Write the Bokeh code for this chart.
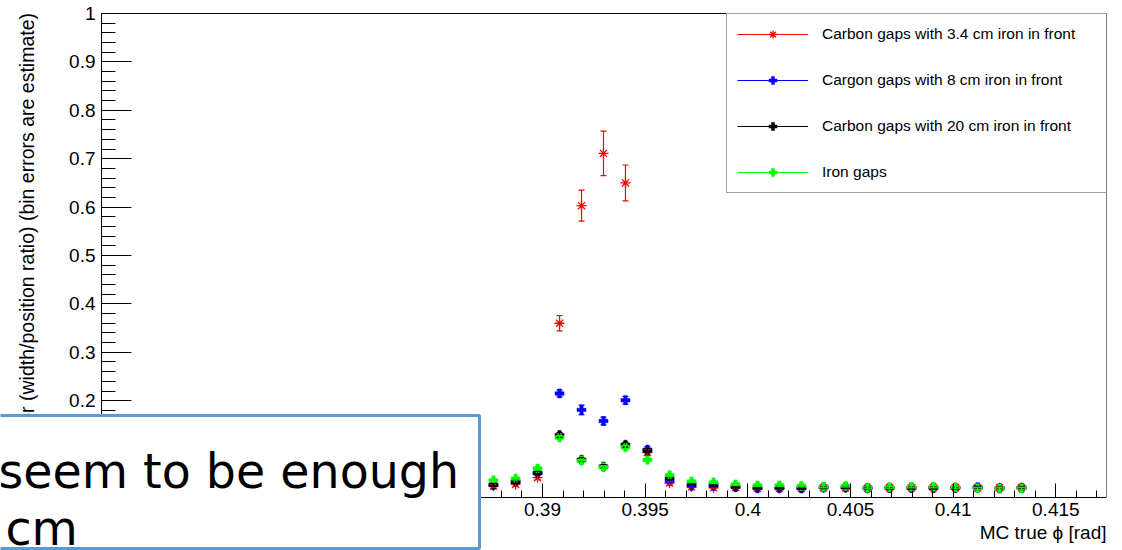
import math
from bokeh.plotting import figure
from bokeh.models import (Range1d, FixedTicker, CustomJSTickFormatter, ColumnDataSource,
                          Whisker, TeeHead, Legend, LegendItem, BoxAnnotation, Label,
                          LinearAxis)
from bokeh.embed import file_html
from bokeh.resources import INLINE

# ---------------- data ----------------
phi = [0.38761, 0.38869, 0.38976, 0.39083, 0.39190, 0.39297, 0.39404, 0.39511,
       0.39619, 0.39726, 0.39833, 0.39940, 0.40047, 0.40154, 0.40261, 0.40369,
       0.40476, 0.40583, 0.40690, 0.40797, 0.40904, 0.41011, 0.41119, 0.41226, 0.41333]

carbon_34 = [0.024, 0.027, 0.041, 0.360, 0.603, 0.711, 0.650, 0.093, 0.030, 0.022,
             0.020, 0.021, 0.019, 0.019, 0.019, 0.020, 0.020, 0.019, 0.020, 0.020,
             0.020, 0.020, 0.020, 0.020, 0.020]
carbon_34_err = [0.003, 0.003, 0.004, 0.016, 0.032, 0.046, 0.037, 0.006, 0.003, 0.002,
                 0.002, 0.002, 0.002, 0.002, 0.002, 0.002, 0.002, 0.002, 0.002, 0.002,
                 0.002, 0.002, 0.002, 0.002, 0.002]

cargon_8 = [0.026, 0.033, 0.050, 0.215, 0.181, 0.158, 0.201, 0.099, 0.034, 0.024,
            0.024, 0.022, 0.019, 0.019, 0.019, 0.021, 0.021, 0.019, 0.020, 0.020,
            0.020, 0.020, 0.021, 0.019, 0.020]
cargon_8_err = [0.003, 0.003, 0.004, 0.007, 0.010, 0.008, 0.008, 0.006, 0.003, 0.002,
                0.002, 0.002, 0.002, 0.002, 0.002, 0.002, 0.002, 0.002, 0.002, 0.002,
                0.002, 0.002, 0.002, 0.002, 0.002]

carbon_20 = [0.026, 0.032, 0.051, 0.129, 0.078, 0.064, 0.109, 0.097, 0.040, 0.028,
             0.026, 0.022, 0.021, 0.021, 0.020, 0.021, 0.021, 0.020, 0.020, 0.020,
             0.020, 0.020, 0.020, 0.019, 0.020]
carbon_20_err = [0.003, 0.003, 0.003, 0.005, 0.004, 0.004, 0.005, 0.004, 0.003, 0.002,
                 0.002, 0.002, 0.002, 0.002, 0.002, 0.002, 0.002, 0.002, 0.002, 0.002,
                 0.002, 0.002, 0.002, 0.002, 0.002]

iron = [0.0355, 0.039, 0.060, 0.124, 0.076, 0.0625, 0.104, 0.078, 0.046, 0.033,
        0.031, 0.027, 0.025, 0.025, 0.024, 0.022, 0.024, 0.020, 0.021, 0.022,
        0.022, 0.021, 0.019, 0.019, 0.019]
iron_err = [0.003, 0.003, 0.003, 0.004, 0.003, 0.003, 0.004, 0.003, 0.003, 0.002,
            0.002, 0.002, 0.002, 0.002, 0.002, 0.002, 0.002, 0.002, 0.002, 0.002,
            0.002, 0.002, 0.002, 0.002, 0.002]

series_labels = ["Carbon gaps with 3.4 cm iron in front",
                 "Cargon gaps with 8 cm iron in front",
                 "Carbon gaps with 20 cm iron in front",
                 "Iron gaps"]
series_colors = ["#ff0000", "#0000ff", "#000000", "#00ff00"]

x_ticks = [0.37, 0.375, 0.38, 0.385, 0.39, 0.395, 0.4, 0.405, 0.41, 0.415]
x_minor = [round(0.369 + 0.001 * i, 3) for i in range(49)]
y_ticks = [0.0, 0.1, 0.2, 0.3, 0.4, 0.5, 0.6, 0.7, 0.8, 0.9, 1.0]
y_minor = [round(0.02 * i, 2) for i in range(51)]

x_title = "MC true \u03d5 [rad]"
y_title = "Resolution factor (width/position ratio) (bin errors are estimate)"
note_lines = ["seem to be enough", "cm"]

FONT = "Liberation Sans"

# ---------------- geometry ----------------
# ROOT-style histogram frame (data limits) and where it sits on the canvas
X0, X1 = 0.368522, 0.417468
Y0, Y1 = 0.0, 1.0
W, H = 1122, 550
FL, FR, FT, FB = 101, 1106, 13, 497


def cx(px):
    """canvas pixel x -> data x (used for annotation placement only)"""
    return X0 + (px - FL) * (X1 - X0) / (FR - FL)


def cy(py):
    """canvas pixel y -> data y (used for annotation placement only)"""
    return Y0 + (FB - py) * (Y1 - Y0) / (FB - FT)


# Bokeh frame spans the canvas (except a right margin) so that the overlay
# note box can cover the axes; the axes sit at fixed data locations.
p = figure(width=W, height=H, output_backend="svg", toolbar_location=None,
           x_range=Range1d(cx(0), X1), y_range=Range1d(cy(H), cy(0)),
           min_border_left=0, min_border_right=W - FR, min_border_top=0,
           min_border_bottom=0)
p.grid.visible = False
p.outline_line_color = None
p.background_fill_color = "white"
p.border_fill_color = "white"

fmt = CustomJSTickFormatter(code="return String(parseFloat(tick.toFixed(4)));")


def style_axis(ax, tick_in, minor_in, standoff):
    ax.formatter = fmt
    ax.major_tick_in = tick_in
    ax.major_tick_out = 0
    ax.minor_tick_in = minor_in
    ax.minor_tick_out = 0
    ax.major_label_standoff = standoff
    ax.major_label_text_font = FONT
    ax.major_label_text_font_size = "19px"
    ax.major_label_text_color = "black"
    ax.axis_line_color = "black"
    ax.major_tick_line_color = "black"
    ax.minor_tick_line_color = "black"


xa = p.xaxis[0]
xa.ticker = FixedTicker(ticks=x_ticks, minor_ticks=x_minor)
xa.fixed_location = Y0
xa.bounds = (X0, X1)
style_axis(xa, 14, 7, 5)

ya = p.yaxis[0]
ya.ticker = FixedTicker(ticks=y_ticks, minor_ticks=y_minor)
ya.fixed_location = X0
ya.bounds = (Y0, Y1)
style_axis(ya, 30, 14, 6)

# top and right frame lines (ROOT frame box)
top_ax = LinearAxis(fixed_location=Y1, bounds=(X0, X1), ticker=FixedTicker(ticks=[]),
                    major_label_text_font_size="0px", axis_line_color="black")
right_ax = LinearAxis(fixed_location=X1, bounds=(Y0, Y1), ticker=FixedTicker(ticks=[]),
                      major_label_text_font_size="0px", axis_line_color="black")
p.add_layout(top_ax, "above")
p.add_layout(right_ax, "right")

# ---------------- series ----------------
all_vals = [carbon_34, cargon_8, carbon_20, iron]
all_errs = [carbon_34_err, cargon_8_err, carbon_20_err, iron_err]
markers = ["asterisk", "plus", "plus", "plus"]

items = []
nan = float("nan")
for vals, errs, col, mk, lab in zip(all_vals, all_errs, series_colors, markers, series_labels):
    src = ColumnDataSource(dict(x=phi, y=vals,
                                upper=[v + e for v, e in zip(vals, errs)],
                                lower=[v - e for v, e in zip(vals, errs)]))
    w = Whisker(source=src, base="x", upper="upper", lower="lower", dimension="height",
                line_color=col, line_width=1.2, level="glyph",
                upper_head=TeeHead(size=6, line_color=col, line_width=1.2),
                lower_head=TeeHead(size=6, line_color=col, line_width=1.2))
    p.add_layout(w)
    if mk == "asterisk":
        r = p.scatter(x="x", y="y", source=src, marker="asterisk", size=10,
                      line_color=col, line_width=1.3)
    else:
        r = p.scatter(x="x", y="y", source=src, marker="plus", size=9,
                      fill_color=col, line_color=col, line_width=0.5)
    # line sample for the legend only (ROOT "lp" legend style)
    lr = p.line(x=[nan, nan], y=[nan, nan], line_color=col, line_width=1.2)
    items.append(LegendItem(label=lab, renderers=[lr, r]))

# legend: bottom-left corner given in screen px from the frame's bottom-left
LEG_PAD, LEG_SP, LEG_ROW, LEG_GW, LEG_LW = 10, 26, 20, 71, 274
leg_h = 2 * LEG_PAD + 4 * LEG_ROW + 3 * LEG_SP
leg_w = 2 * LEG_PAD + LEG_GW + 14 + LEG_LW
legend = Legend(items=items, location=(FR - leg_w - 1, H - FT - leg_h - 2), margin=0,
                padding=LEG_PAD, spacing=LEG_SP,
                glyph_width=LEG_GW, glyph_height=LEG_ROW, label_height=LEG_ROW,
                label_width=LEG_LW, label_standoff=14, label_text_font=FONT,
                label_text_font_size="15.5px", label_text_color="black",
                border_line_color="#444444", border_line_width=1,
                background_fill_color="white", background_fill_alpha=1)
p.add_layout(legend)

# ---------------- axis titles (ROOT style, right aligned) ----------------
p.add_layout(Label(x=cx(FR), y=cy(532), text=x_title, text_align="right",
                   text_baseline="middle", text_font=FONT, text_font_size="19px",
                   text_color="black"))
p.add_layout(Label(x=cx(26), y=cy(12.5), text=y_title, angle=math.pi / 2,
                   text_align="right", text_baseline="middle", text_font=FONT,
                   text_font_size="19.5px", text_color="black"))

# ---------------- overlay note box (drawn over the axes) ----------------
p.add_layout(BoxAnnotation(left=cx(-40), right=cx(479), top=cy(415), bottom=cy(548),
                           fill_color="white", fill_alpha=1.0,
                           line_color="#5b9bd5", line_width=3, line_alpha=1.0,
                           level="overlay"))
p.add_layout(Label(x=cx(-2), y=cy(471), text=note_lines[0], text_align="left",
                   text_baseline="alphabetic", text_font="DejaVu Sans",
                   text_font_size="47.5px", text_color="black", level="overlay"))
p.add_layout(Label(x=cx(5), y=cy(528), text=note_lines[1], text_align="left",
                   text_baseline="alphabetic", text_font="DejaVu Sans",
                   text_font_size="47.5px", text_color="black", level="overlay"))

open("out.html", "w").write(file_html(p, INLINE))
